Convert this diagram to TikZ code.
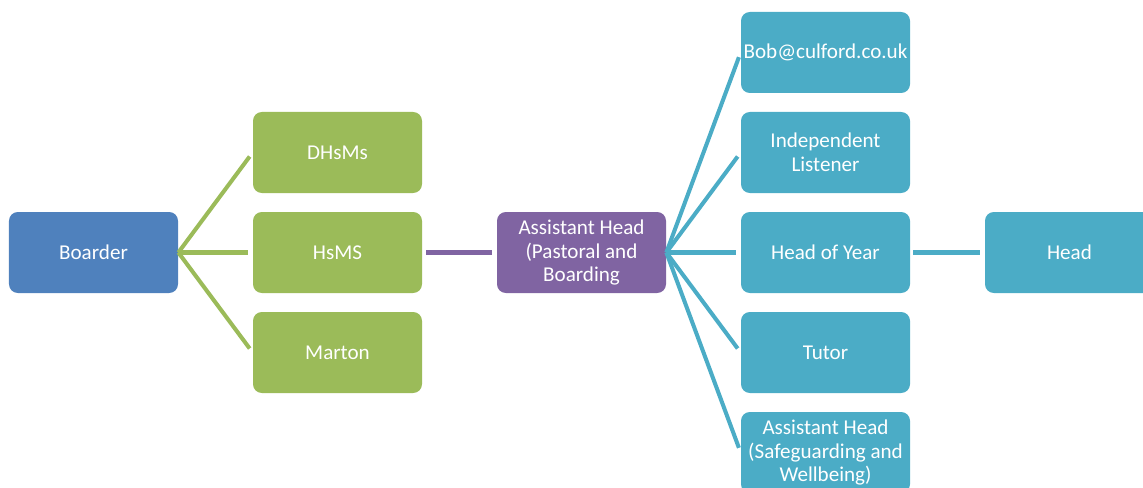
\documentclass[tikz,border=0pt]{standalone}
\usepackage{fontspec}
\setmainfont{Carlito}
\usepackage{tikz}
\definecolor{boarderblue}{HTML}{4F81BD}
\definecolor{housegreen}{HTML}{9BBB59}
\definecolor{pastoralpurple}{HTML}{8064A2}
\definecolor{staffteal}{HTML}{4BACC6}
\tikzset{
  box/.style={rectangle, rounded corners=5pt, minimum width=3.38cm, minimum height=1.62cm,
    inner sep=0pt, align=center, text=white, font=\fontsize{12}{13.4}\selectfont},
  link/.style={line width=2.3pt, shorten >=0.1cm},
}

\begin{document}
\begin{tikzpicture}
  \clip (0,0) rectangle (22.86,-9.76);
  \useasboundingbox (0,0) rectangle (22.86,-9.76);
  % pupil
  \node[box, fill=boarderblue] (boarder) at (1.87,-5.05) {Boarder};
  % houses
  \node[box, fill=housegreen] (dhsms) at (6.75,-3.05) {DHsMs};
  \node[box, fill=housegreen] (hsms) at (6.75,-5.05) {HsMS};
  \node[box, fill=housegreen] (marton) at (6.75,-7.05) {Marton};
  % pastoral lead
  \node[box, fill=pastoralpurple] (pastoral) at (11.63,-5.05) {Assistant Head\\(Pastoral and\\Boarding};
  % staff
  \node[box, fill=staffteal] (bob) at (16.51,-1.05) {Bob@culford.co.uk};
  \node[box, fill=staffteal] (listener) at (16.51,-3.05) {Independent\\Listener};
  \node[box, fill=staffteal] (hoy) at (16.51,-5.05) {Head of Year};
  \node[box, fill=staffteal] (tutor) at (16.51,-7.05) {Tutor};
  \node[box, fill=staffteal] (safeguarding) at (16.51,-9.05) {Assistant Head\\(Safeguarding and\\Wellbeing)};
  \node[box, fill=staffteal] (head) at (21.39,-5.05) {Head};

  \draw[link, housegreen] (boarder.east) -- (dhsms.west);
  \draw[link, housegreen] (boarder.east) -- (hsms.west);
  \draw[link, housegreen] (boarder.east) -- (marton.west);
  \draw[link, pastoralpurple, shorten <=0.08cm] (hsms.east) -- (pastoral.west);
  \draw[link, staffteal] (pastoral.east) -- (bob.west);
  \draw[link, staffteal] (pastoral.east) -- (listener.west);
  \draw[link, staffteal] (pastoral.east) -- (hoy.west);
  \draw[link, staffteal] (pastoral.east) -- (tutor.west);
  \draw[link, staffteal] (pastoral.east) -- (safeguarding.west);
  \draw[link, staffteal, shorten <=0.06cm] (hoy.east) -- (head.west);
\end{tikzpicture}
\end{document}
